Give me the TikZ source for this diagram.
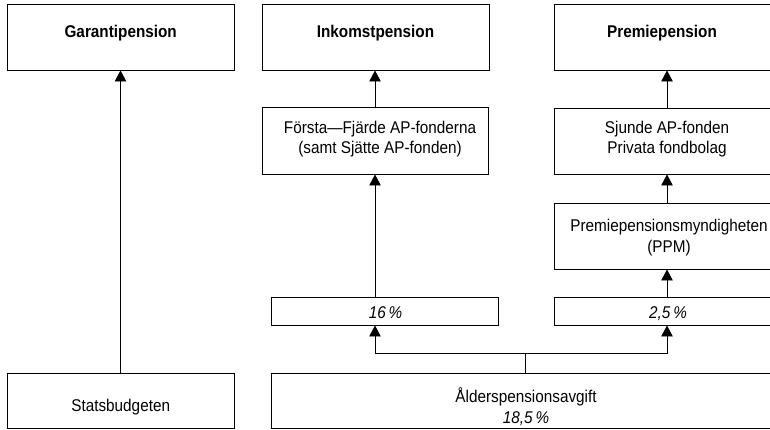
\documentclass[tikz,border=0pt]{standalone}
\usepackage{fontspec}
\setmainfont{Liberation Sans}[FakeStretch=0.9]
\usetikzlibrary{arrows.meta}
\begin{document}
\begin{tikzpicture}[x=1pt,y=-1pt,
  box/.style={draw, line width=0.9pt, inner sep=0pt, rectangle},
  lbl/.style={inner sep=0pt, anchor=base, font=\fontsize{17}{20.5}\selectfont, align=center},
  arr/.style={line width=0.9pt, -{Triangle[length=11pt,width=11.5pt]}},
  ln/.style={line width=0.9pt}]
\useasboundingbox (0,0) rectangle (770,429);
\clip (0,0) rectangle (770,429);
% top row
\node[box, minimum width=227pt, minimum height=66pt] (garant) at (120.5,37) {};
\node[box, minimum width=227pt, minimum height=66pt] (inkomst) at (375.5,37) {};
\node[box, minimum width=226pt, minimum height=66pt] (premie) at (667,37) {};
% second row
\node[box, minimum width=226pt, minimum height=67pt] (forsta) at (375,140.5) {};
\node[box, minimum width=226pt, minimum height=66pt] (sjunde) at (667,141) {};
\node[box, minimum width=226pt, minimum height=66pt] (ppm) at (667,236) {};
% percentages
\node[box, minimum width=227pt, minimum height=28pt] (b16) at (384.5,311) {};
\node[box, minimum width=226pt, minimum height=28pt] (b25) at (667,311) {};
% bottom row
\node[box, minimum width=227pt, minimum height=55.5pt] (stats) at (120.5,400.75) {};
\node[box, minimum width=510pt, minimum height=55.5pt] (alder) at (526,400.75) {};
% labels (base = baseline of the last line)
\node[lbl] (garant-t) at (120.7,37.5) {\bfseries Garantipension};
\node[lbl] (inkomst-t) at (375.5,37.5) {\bfseries Inkomstpension};
\node[lbl] (premie-t) at (662,37.5) {\bfseries Premiepension};
\node[lbl] (forsta-t) at (380,153.5) {Första—Fjärde AP-fonderna\\(samt Sjätte AP-fonden)};
\node[lbl] (sjunde-t) at (667,153.5) {Sjunde AP-fonden\\Privata fondbolag};
\node[lbl] (ppm-t) at (669,252) {Premiepensionsmyndigheten\\(PPM)};
\node[lbl] (b16-t) at (385.5,318) {\itshape 16\,\%};
\node[lbl] (b25-t) at (668,318) {\itshape 2,5\,\%};
\node[lbl] (stats-t) at (120.7,411) {Statsbudgeten};
\node[lbl] (alder-t) at (526,423) {Ålderspensionsavgift\\\itshape 18,5\,\%};
% connectors
\coordinate (split) at (525,353);
\draw[arr] (stats.north) -- (garant.south);
\draw[arr] (forsta.north) -- (forsta.north |- inkomst.south);
\draw[arr] (sjunde.north) -- (premie.south);
\draw[arr] (ppm.north) -- (sjunde.south);
\draw[arr] (b25.north) -- (ppm.south);
\draw[arr] (b16.north -| forsta.south) -- (forsta.south);
\draw[ln] (alder.north -| split) -- (split);
\draw[arr] (split) -| (b16.south -| forsta.south);
\draw[arr] (split) -| (b25.south);
\end{tikzpicture}
\end{document}
